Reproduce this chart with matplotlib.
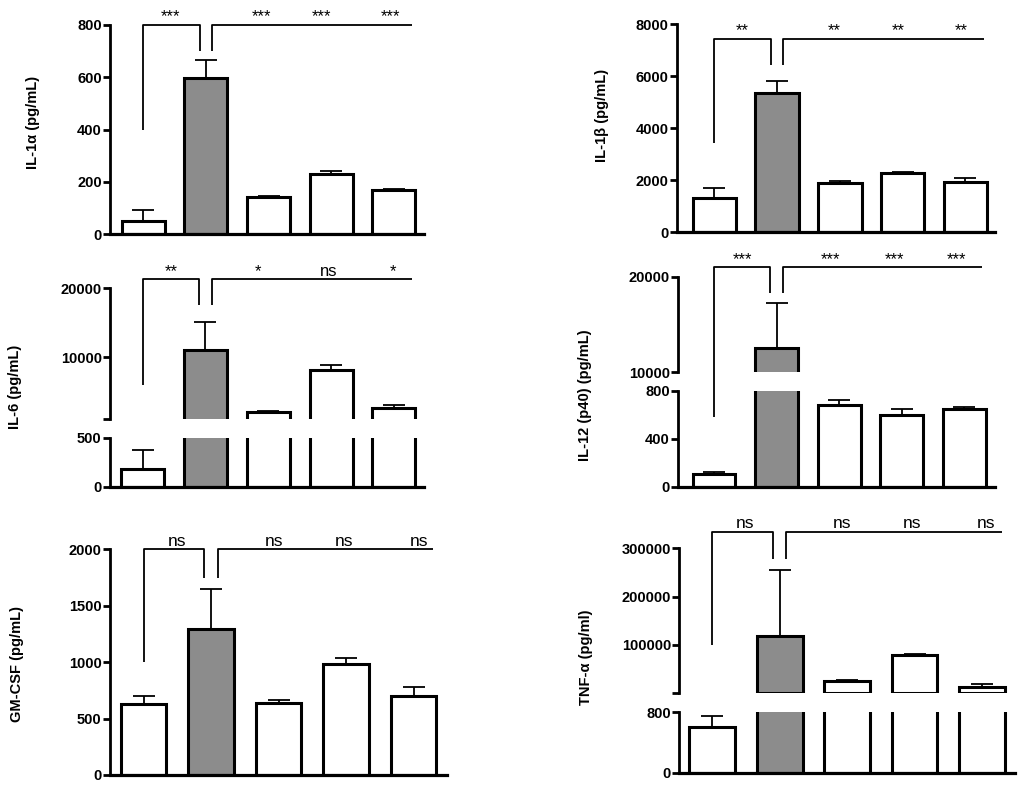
import matplotlib
matplotlib.use("Agg")
import matplotlib.pyplot as plt
import numpy as np

plt.rcParams['font.family'] = ['Liberation Sans', 'DejaVu Sans']
plt.rcParams['font.weight'] = 'bold'

# ---------------- data ----------------
n_groups = 5
il1a_mean = [50, 598, 142, 228, 167]
il1a_err = [42, 68, 4, 12, 4]
il1a_sig = ['***', '***', '***', '***']

il1b_mean = [1320, 5350, 1910, 2270, 1930]
il1b_err = [400, 460, 70, 40, 170]
il1b_sig = ['**', '**', '**', '**']

il6_mean = [185, 11050, 2030, 8160, 2550]
il6_err = [190, 4100, 100, 690, 540]
il6_sig = ['**', '*', 'ns', '*']

il12_mean = [104, 12570, 683, 599, 647]
il12_err = [21, 4650, 42, 48, 22]
il12_sig = ['***', '***', '***', '***']

gmcsf_mean = [632, 1295, 638, 988, 700]
gmcsf_err = [70, 355, 30, 53, 80]
gmcsf_sig = ['ns', 'ns', 'ns', 'ns']

tnf_mean = [610, 118600, 25600, 79300, 13800]
tnf_err = [145, 136400, 800, 800, 5600]
tnf_sig = ['ns', 'ns', 'ns', 'ns']

# ---------------- style ----------------
W, H = 1024, 791
GRAY = '#8c8c8c'
BAR_LW = 2.2
SPINE_LW = 2.0
fig = plt.figure(figsize=(W / 100, H / 100), dpi=100)


def px(l, t, r, b):
    return [l / W, 1 - b / H, (r - l) / W, (b - t) / H]


def style_axis(ax, xlim, ylim, yticks, yticklabels=None, bottom=True):
    ax.set_xlim(*xlim)
    ax.set_ylim(*ylim)
    ax.set_yticks(yticks)
    if yticklabels is not None:
        ax.set_yticklabels(yticklabels)
    ax.set_xticks([])
    for s in ['top', 'right']:
        ax.spines[s].set_visible(False)
    ax.spines['bottom'].set_visible(bottom)
    ax.spines['left'].set_linewidth(SPINE_LW)
    ax.spines['bottom'].set_linewidth(SPINE_LW + 0.3)
    ax.tick_params(axis='y', direction='out', length=5, width=SPINE_LW,
                   labelsize=10.5, pad=1)
    for lab in ax.get_yticklabels():
        lab.set_fontweight('bold')
    ax.patch.set_visible(False)


def draw_bars(ax, means, errs, width, floor=None):
    x = np.arange(n_groups)
    means = np.asarray(means, float)
    errs = np.asarray(errs, float)
    colors = np.array(['white', GRAY, 'white', 'white', 'white'])
    keep = np.ones(n_groups, bool) if floor is None else (means + errs) > floor
    ax.bar(x[keep], means[keep], width=width, color=list(colors[keep]),
           edgecolor='black', linewidth=BAR_LW, zorder=2)
    ax.errorbar(x[keep], means[keep],
                yerr=[np.zeros(keep.sum()), errs[keep]], fmt='none',
                ecolor='black', elinewidth=1.3, capsize=8, capthick=1.3,
                zorder=1)


def draw_brackets(ax, lb, top, drop, sig, sig_x, right_end=4.29, fs=12):
    kw = dict(color='black', lw=1.3, clip_on=False, solid_capstyle='butt',
              zorder=5)
    ax.plot([0, 0, 0.9, 0.9], [lb, top, top, drop], **kw)
    ax.plot([1.1, 1.1, right_end], [drop, top, top], **kw)
    for s, xs in zip(sig, sig_x):
        ax.annotate(s, xy=(xs, top), xytext=(0, 2.5), textcoords='offset points',
                    ha='center', va='baseline', fontsize=fs, fontweight='normal',
                    annotation_clip=False)


def ylabel(text, xc, yc):
    fig.text(xc / W, 1 - yc / H, text, rotation=90, ha='center', va='center',
             fontsize=10.5, fontweight='bold')


# ---------------- IL-1alpha ----------------
ax = fig.add_axes(px(110, 25, 424, 234))
draw_bars(ax, il1a_mean, il1a_err, 0.686)
style_axis(ax, (-0.53, 4.48), (0, 800), [0, 200, 400, 600, 800])
draw_brackets(ax, 400, 800, 700, il1a_sig, [0.44, 1.89, 2.85, 3.95])
ylabel('IL-1α (pg/mL)', 33, 122)

# ---------------- IL-1beta ----------------
ax = fig.add_axes(px(676.7, 24.3, 995, 232.3))
draw_bars(ax, il1b_mean, il1b_err, 0.69)
style_axis(ax, (-0.60, 4.47), (0, 8000), [0, 2000, 4000, 6000, 8000])
draw_brackets(ax, 3450, 7450, 6450, il1b_sig, [0.45, 1.91, 2.93, 3.93])
ylabel('IL-1β (pg/mL)', 601.7, 115)

# ---------------- IL-6 (broken) ----------------
xl = (-0.52, 4.48)
axu = fig.add_axes(px(110, 288.3, 424, 419))
axl = fig.add_axes(px(110, 437.7, 424, 486.7))
draw_bars(axu, il6_mean, il6_err, 0.685, floor=1000)
draw_bars(axl, il6_mean, il6_err, 0.685)
style_axis(axu, xl, (1000, 20000), [1000, 10000, 20000], ['', '10000', '20000'],
           bottom=False)
style_axis(axl, xl, (0, 500), [0, 500])
draw_brackets(axu, 6000, 21300, 17500, il6_sig, [0.45, 1.83, 2.96, 3.98])
ylabel('IL-6 (pg/mL)', 15, 387)

# ---------------- IL-12 (broken) ----------------
xl = (-0.57, 4.49)
axu = fig.add_axes(px(678.3, 276.7, 995, 372.3))
axl = fig.add_axes(px(678.3, 391, 995, 486.7))
draw_bars(axu, il12_mean, il12_err, 0.685, floor=10000)
draw_bars(axl, il12_mean, il12_err, 0.685)
style_axis(axu, xl, (10000, 20000), [10000, 20000], bottom=False)
style_axis(axl, xl, (0, 800), [0, 400, 800])
draw_brackets(axu, 5350, 21000, 18250, il12_sig, [0.45, 1.86, 2.88, 3.88])
ylabel('IL-12 (p40) (pg/mL)', 585, 395)

# ---------------- GM-CSF ----------------
ax = fig.add_axes(px(110, 549.3, 446.7, 775))
draw_bars(ax, gmcsf_mean, gmcsf_err, 0.674)
style_axis(ax, (-0.50, 4.49), (0, 2000), [0, 500, 1000, 1500, 2000])
draw_brackets(ax, 1000, 2000, 1750, gmcsf_sig, [0.49, 1.93, 2.97, 4.08], fs=12.5)
ylabel('GM-CSF (pg/mL)', 16.7, 664)

# ---------------- TNF-alpha (broken) ----------------
xl = (-0.49, 4.49)
axu = fig.add_axes(px(679.3, 548.3, 1015, 692.7))
axl = fig.add_axes(px(679.3, 712.3, 1015, 772.7))
draw_bars(axu, tnf_mean, tnf_err, 0.68, floor=1000)
draw_bars(axl, tnf_mean, tnf_err, 0.68)
style_axis(axu, xl, (1000, 300000), [1000, 100000, 200000, 300000],
           ['', '100000', '200000', '300000'], bottom=False)
style_axis(axl, xl, (0, 800), [0, 800])
draw_brackets(axu, 100000, 334000, 277000, tnf_sig, [0.48, 1.92, 2.96, 4.06],
              fs=12.5)
ylabel('TNF-α (pg/ml)', 586, 657)

fig.savefig('out.png', dpi=100)
